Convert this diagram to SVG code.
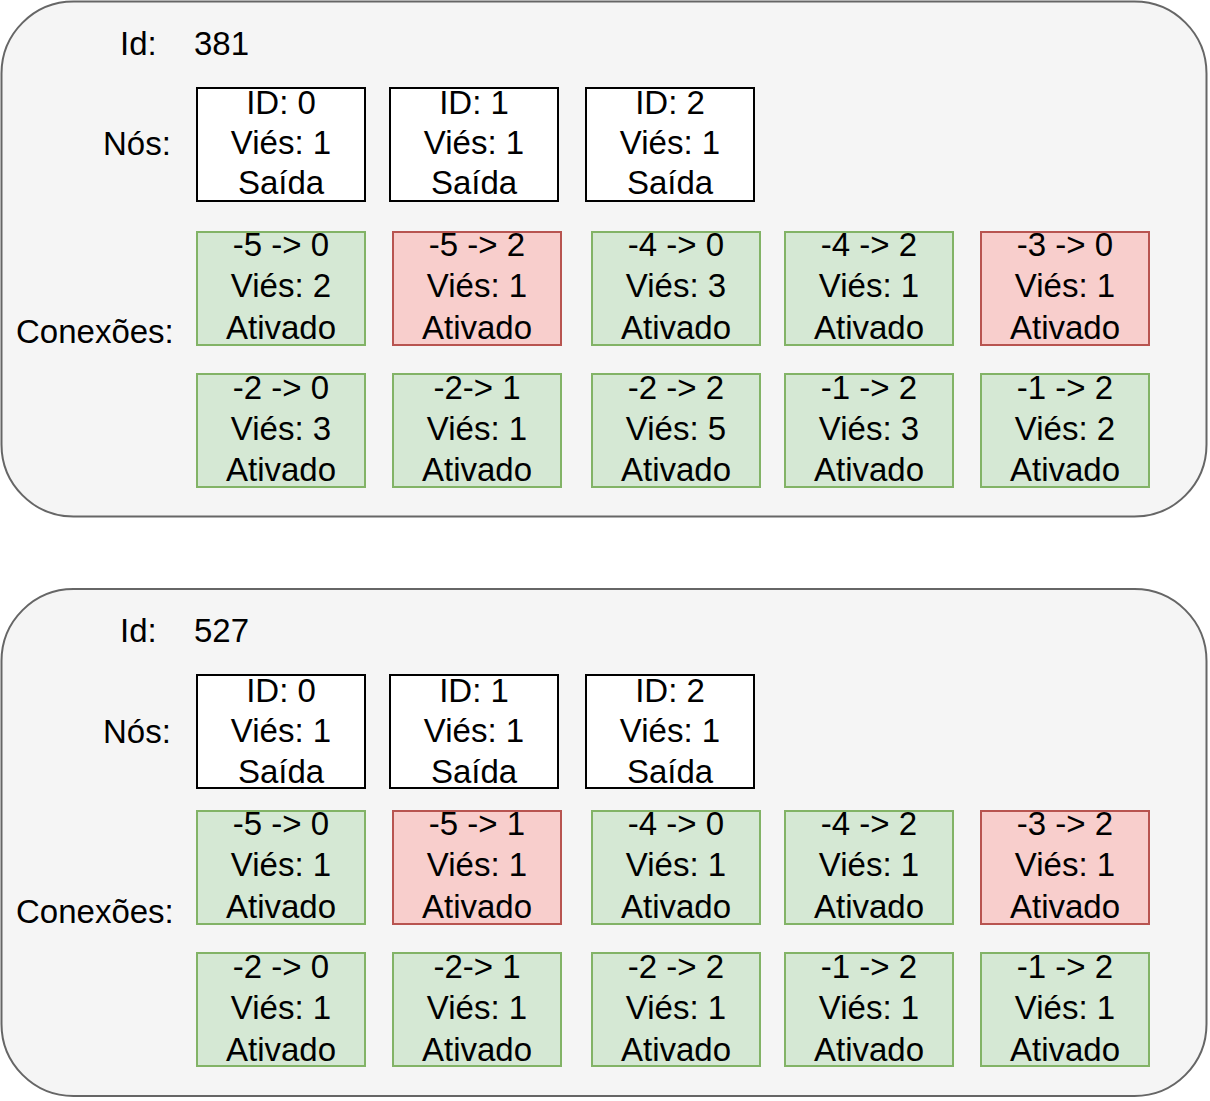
<svg xmlns="http://www.w3.org/2000/svg" width="1210" height="1101" viewBox="0 0 1210 1101">
<style>
text{font-family:"Liberation Sans",Arial,sans-serif;font-size:33px;fill:#000}
.c{text-anchor:middle}
.box{stroke-width:2}
.cont{fill:#f5f5f5;stroke:#666666;stroke-width:2}
.node{fill:#ffffff;stroke:#000000;stroke-width:2}
.g{fill:#d5e8d4;stroke:#82b366;stroke-width:2}
.r{fill:#f8cecc;stroke:#b85450;stroke-width:2}
</style>
<g id="genome-381">
<rect class="cont" x="1.5" y="1.5" width="1205" height="515" rx="72" ry="72"/>
<text x="120" y="55">Id:</text>
<text x="194" y="55">381</text>
<text x="103" y="155">Nós:</text>
<text x="16" y="343">Conexões:</text>
</g>
<g id="n381-0"><rect class="node" x="197" y="88" width="168" height="113"/><text class="c" x="281" y="114">ID: 0<tspan x="281" dy="40">Viés: 1</tspan><tspan x="281" dy="40">Saída</tspan></text></g>
<g id="n381-1"><rect class="node" x="390" y="88" width="168" height="113"/><text class="c" x="474" y="114">ID: 1<tspan x="474" dy="40">Viés: 1</tspan><tspan x="474" dy="40">Saída</tspan></text></g>
<g id="n381-2"><rect class="node" x="586" y="88" width="168" height="113"/><text class="c" x="670" y="114">ID: 2<tspan x="670" dy="40">Viés: 1</tspan><tspan x="670" dy="40">Saída</tspan></text></g>
<g id="c381-1"><rect class="g" x="197" y="232" width="168" height="113"/><text class="c" x="281" y="256">-5 -&gt; 0<tspan x="281" dy="41">Viés: 2</tspan><tspan x="281" dy="42">Ativado</tspan></text></g>
<g id="c381-2"><rect class="r" x="393" y="232" width="168" height="113"/><text class="c" x="477" y="256">-5 -&gt; 2<tspan x="477" dy="41">Viés: 1</tspan><tspan x="477" dy="42">Ativado</tspan></text></g>
<g id="c381-3"><rect class="g" x="592" y="232" width="168" height="113"/><text class="c" x="676" y="256">-4 -&gt; 0<tspan x="676" dy="41">Viés: 3</tspan><tspan x="676" dy="42">Ativado</tspan></text></g>
<g id="c381-4"><rect class="g" x="785" y="232" width="168" height="113"/><text class="c" x="869" y="256">-4 -&gt; 2<tspan x="869" dy="41">Viés: 1</tspan><tspan x="869" dy="42">Ativado</tspan></text></g>
<g id="c381-5"><rect class="r" x="981" y="232" width="168" height="113"/><text class="c" x="1065" y="256">-3 -&gt; 0<tspan x="1065" dy="41">Viés: 1</tspan><tspan x="1065" dy="42">Ativado</tspan></text></g>
<g id="c381-6"><rect class="g" x="197" y="374" width="168" height="113"/><text class="c" x="281" y="399">-2 -&gt; 0<tspan x="281" dy="41">Viés: 3</tspan><tspan x="281" dy="41">Ativado</tspan></text></g>
<g id="c381-7"><rect class="g" x="393" y="374" width="168" height="113"/><text class="c" x="477" y="399">-2-&gt; 1<tspan x="477" dy="41">Viés: 1</tspan><tspan x="477" dy="41">Ativado</tspan></text></g>
<g id="c381-8"><rect class="g" x="592" y="374" width="168" height="113"/><text class="c" x="676" y="399">-2 -&gt; 2<tspan x="676" dy="41">Viés: 5</tspan><tspan x="676" dy="41">Ativado</tspan></text></g>
<g id="c381-9"><rect class="g" x="785" y="374" width="168" height="113"/><text class="c" x="869" y="399">-1 -&gt; 2<tspan x="869" dy="41">Viés: 3</tspan><tspan x="869" dy="41">Ativado</tspan></text></g>
<g id="c381-10"><rect class="g" x="981" y="374" width="168" height="113"/><text class="c" x="1065" y="399">-1 -&gt; 2<tspan x="1065" dy="41">Viés: 2</tspan><tspan x="1065" dy="41">Ativado</tspan></text></g>

<g id="genome-527">
<rect class="cont" x="1.5" y="589" width="1205" height="507" rx="72" ry="72"/>
<text x="120" y="642">Id:</text>
<text x="194" y="642">527</text>
<text x="103" y="743">Nós:</text>
<text x="16" y="923">Conexões:</text>
</g>
<g id="n527-0"><rect class="node" x="197" y="675" width="168" height="113"/><text class="c" x="281" y="702">ID: 0<tspan x="281" dy="40">Viés: 1</tspan><tspan x="281" dy="41">Saída</tspan></text></g>
<g id="n527-1"><rect class="node" x="390" y="675" width="168" height="113"/><text class="c" x="474" y="702">ID: 1<tspan x="474" dy="40">Viés: 1</tspan><tspan x="474" dy="41">Saída</tspan></text></g>
<g id="n527-2"><rect class="node" x="586" y="675" width="168" height="113"/><text class="c" x="670" y="702">ID: 2<tspan x="670" dy="40">Viés: 1</tspan><tspan x="670" dy="41">Saída</tspan></text></g>
<g id="c527-1"><rect class="g" x="197" y="811" width="168" height="113"/><text class="c" x="281" y="835">-5 -&gt; 0<tspan x="281" dy="41">Viés: 1</tspan><tspan x="281" dy="42">Ativado</tspan></text></g>
<g id="c527-2"><rect class="r" x="393" y="811" width="168" height="113"/><text class="c" x="477" y="835">-5 -&gt; 1<tspan x="477" dy="41">Viés: 1</tspan><tspan x="477" dy="42">Ativado</tspan></text></g>
<g id="c527-3"><rect class="g" x="592" y="811" width="168" height="113"/><text class="c" x="676" y="835">-4 -&gt; 0<tspan x="676" dy="41">Viés: 1</tspan><tspan x="676" dy="42">Ativado</tspan></text></g>
<g id="c527-4"><rect class="g" x="785" y="811" width="168" height="113"/><text class="c" x="869" y="835">-4 -&gt; 2<tspan x="869" dy="41">Viés: 1</tspan><tspan x="869" dy="42">Ativado</tspan></text></g>
<g id="c527-5"><rect class="r" x="981" y="811" width="168" height="113"/><text class="c" x="1065" y="835">-3 -&gt; 2<tspan x="1065" dy="41">Viés: 1</tspan><tspan x="1065" dy="42">Ativado</tspan></text></g>
<g id="c527-6"><rect class="g" x="197" y="953" width="168" height="113"/><text class="c" x="281" y="978">-2 -&gt; 0<tspan x="281" dy="41">Viés: 1</tspan><tspan x="281" dy="42">Ativado</tspan></text></g>
<g id="c527-7"><rect class="g" x="393" y="953" width="168" height="113"/><text class="c" x="477" y="978">-2-&gt; 1<tspan x="477" dy="41">Viés: 1</tspan><tspan x="477" dy="42">Ativado</tspan></text></g>
<g id="c527-8"><rect class="g" x="592" y="953" width="168" height="113"/><text class="c" x="676" y="978">-2 -&gt; 2<tspan x="676" dy="41">Viés: 1</tspan><tspan x="676" dy="42">Ativado</tspan></text></g>
<g id="c527-9"><rect class="g" x="785" y="953" width="168" height="113"/><text class="c" x="869" y="978">-1 -&gt; 2<tspan x="869" dy="41">Viés: 1</tspan><tspan x="869" dy="42">Ativado</tspan></text></g>
<g id="c527-10"><rect class="g" x="981" y="953" width="168" height="113"/><text class="c" x="1065" y="978">-1 -&gt; 2<tspan x="1065" dy="41">Viés: 1</tspan><tspan x="1065" dy="42">Ativado</tspan></text></g>
<g id="connectors"/>
</svg>
